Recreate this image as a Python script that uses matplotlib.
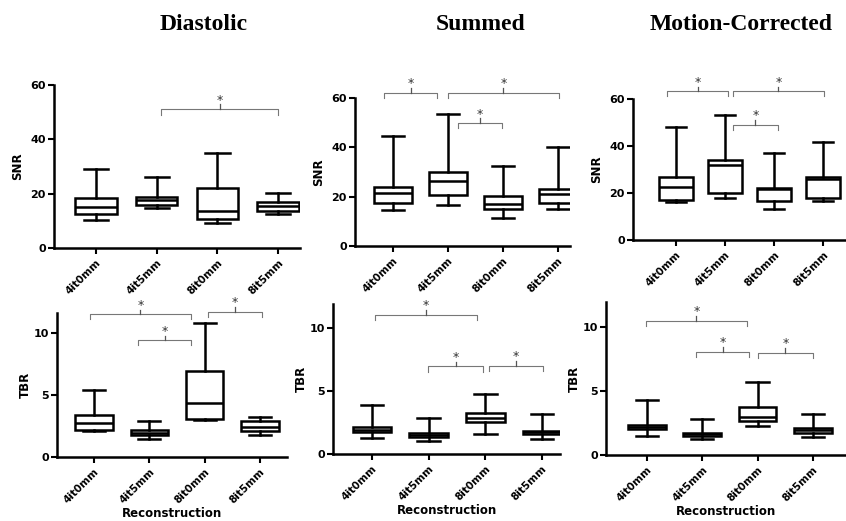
import matplotlib.pyplot as plt

plt.rcParams['font.family'] = ['DejaVu Sans']

labels = ['4it0mm', '4it5mm', '8it0mm', '8it5mm']
titles = ['Diastolic', 'Summed', 'Motion-Corrected']

# box = [whisker low, q1, median, q3, whisker high]
snr_diastolic = [[10.2, 12.5, 15.1, 18.4, 29.1],
                 [14.7, 15.9, 17.5, 18.7, 26.3],
                 [9.2, 10.8, 13.5, 22.0, 34.9],
                 [12.6, 13.8, 15.3, 16.9, 20.2]]
snr_summed = [[14.5, 17.6, 21.6, 23.8, 44.4],
              [16.7, 20.7, 26.5, 30.1, 53.5],
              [11.5, 15.0, 17.1, 20.3, 32.5],
              [15.2, 17.6, 21.0, 23.0, 40.1]]
snr_motion = [[16.1, 17.2, 22.6, 26.6, 47.9],
              [17.8, 20.1, 31.8, 33.9, 53.3],
              [13.0, 16.6, 21.8, 22.2, 37.2],
              [16.6, 17.8, 26.0, 26.8, 41.7]]
tbr_diastolic = [[2.08, 2.2, 2.76, 3.35, 5.4],
                 [1.49, 1.8, 1.95, 2.16, 2.92],
                 [2.97, 3.08, 4.32, 6.95, 10.76],
                 [1.81, 2.08, 2.43, 2.89, 3.24]]
tbr_summed = [[1.3, 1.72, 1.91, 2.17, 3.9],
              [1.06, 1.33, 1.49, 1.64, 2.89],
              [1.59, 2.52, 2.84, 3.24, 4.75],
              [1.19, 1.59, 1.72, 1.86, 3.18]]
tbr_motion = [[1.49, 2.04, 2.2, 2.36, 4.27],
              [1.28, 1.49, 1.62, 1.75, 2.83],
              [2.23, 2.67, 3.0, 3.74, 5.71],
              [1.39, 1.75, 1.96, 2.09, 3.22]]

# significance brackets: (x start, x end, height)
br_snr_diastolic = [(2.07, 4.0, 51)]
br_snr_summed = [(0.84, 1.8, 62), (2.0, 4.02, 62), (2.18, 2.98, 49.8)]
br_snr_motion = [(0.82, 2.06, 63.3), (2.16, 4.02, 63.3), (2.16, 3.08, 49)]
br_tbr_diastolic = [(0.93, 2.75, 11.5), (1.8, 2.75, 9.4), (3.06, 4.04, 11.7)]
br_tbr_summed = [(1.05, 2.85, 11.06), (1.99, 2.96, 6.95), (3.06, 4.02, 7.0)]
br_tbr_motion = [(0.98, 2.81, 10.47), (1.89, 2.85, 8.06), (3.0, 4.01, 7.98)]

W, H = 846, 521

# pixel layout: (left, top, right, bottom), xlim, ylim
panels = [
    (snr_diastolic, br_snr_diastolic, 'SNR', (54, 85, 300, 248), (0.31, 4.36), (0, 60)),
    (snr_summed, br_snr_summed, 'SNR', (355, 98, 570, 246), (0.31, 4.22), (0, 60)),
    (snr_motion, br_snr_motion, 'SNR', (633, 99, 846, 240), (0.12, 4.47), (0, 60)),
    (tbr_diastolic, br_tbr_diastolic, 'TBR', (57, 313, 287, 457), (0.33, 4.49), (0, 11.6)),
    (tbr_summed, br_tbr_summed, 'TBR', (333, 304, 560, 454), (0.31, 4.32), (0, 11.9)),
    (tbr_motion, br_tbr_motion, 'TBR', (606, 302, 846, 455), (0.26, 4.6), (0, 11.95)),
]


def make_stats(boxes):
    stats = []
    for lo, q1, med, q3, hi in boxes:
        stats.append({'whislo': lo, 'q1': q1, 'med': med, 'q3': q3,
                      'whishi': hi, 'fliers': []})
    return stats


def draw_brackets(ax, brackets, yrange):
    drop = yrange * 0.035
    for x0, x1, y in brackets:
        xm = (x0 + x1) / 2
        ax.plot([x0, x0, x1, x1], [y - drop, y, y, y - drop], color='#777777',
                lw=0.8, clip_on=False)
        ax.plot([xm, xm], [y, y + drop * 0.9], color='#555555', lw=0.9, clip_on=False)
        ax.text(xm, y + drop * 0.5, '*', ha='center', va='bottom', fontsize=9,
                color='#333333', clip_on=False)


fig = plt.figure(figsize=(W / 100, H / 100), dpi=100)

for k, (boxes, brackets, ylabel, (l, t, r, b), xlim, ylim) in enumerate(panels):
    ax = fig.add_axes([l / W, 1 - b / H, (r - l) / W, (b - t) / H])
    lw = 1.8
    ax.bxp(make_stats(boxes), positions=[1, 2, 3, 4], widths=0.68, capwidths=0.4,
           showfliers=False, patch_artist=True,
           boxprops=dict(facecolor='white', edgecolor='black', linewidth=lw),
           medianprops=dict(color='black', linewidth=lw),
           whiskerprops=dict(color='black', linewidth=lw),
           capprops=dict(color='black', linewidth=lw))
    ax.set_xlim(*xlim)
    ax.set_ylim(*ylim)
    if ylabel == 'SNR':
        ax.set_yticks([0, 20, 40, 60])
    else:
        ax.set_yticks([0, 5, 10])
    ax.set_xticks([1, 2, 3, 4])
    ax.set_xticklabels(labels, rotation=45, ha='right', rotation_mode='anchor',
                       fontsize=7.5, fontweight='bold')
    for lab in ax.get_yticklabels():
        lab.set_fontweight('bold')
        lab.set_fontsize(8)
    for side in ['top', 'right']:
        ax.spines[side].set_visible(False)
    for side in ['left', 'bottom']:
        ax.spines[side].set_linewidth(1.8)
    ax.tick_params(width=1.5, length=4, pad=2)
    ax.tick_params(axis='x', pad=3)
    ax.set_ylabel(ylabel, fontsize=8.5, fontweight='bold',
                  labelpad=4 if ylabel == 'SNR' else 1)
    if k >= 3:
        ax.set_xlabel('Reconstruction', fontsize=8.5, fontweight='bold', labelpad=1)
    draw_brackets(ax, brackets, ylim[1] - ylim[0])

for x, title in zip([204, 481, 741], titles):
    fig.text(x / W, 1 - 25 / H, title, ha='center', va='center', fontsize=17,
             fontweight='bold', family='Liberation Serif')

fig.savefig('out.png', dpi=100)
